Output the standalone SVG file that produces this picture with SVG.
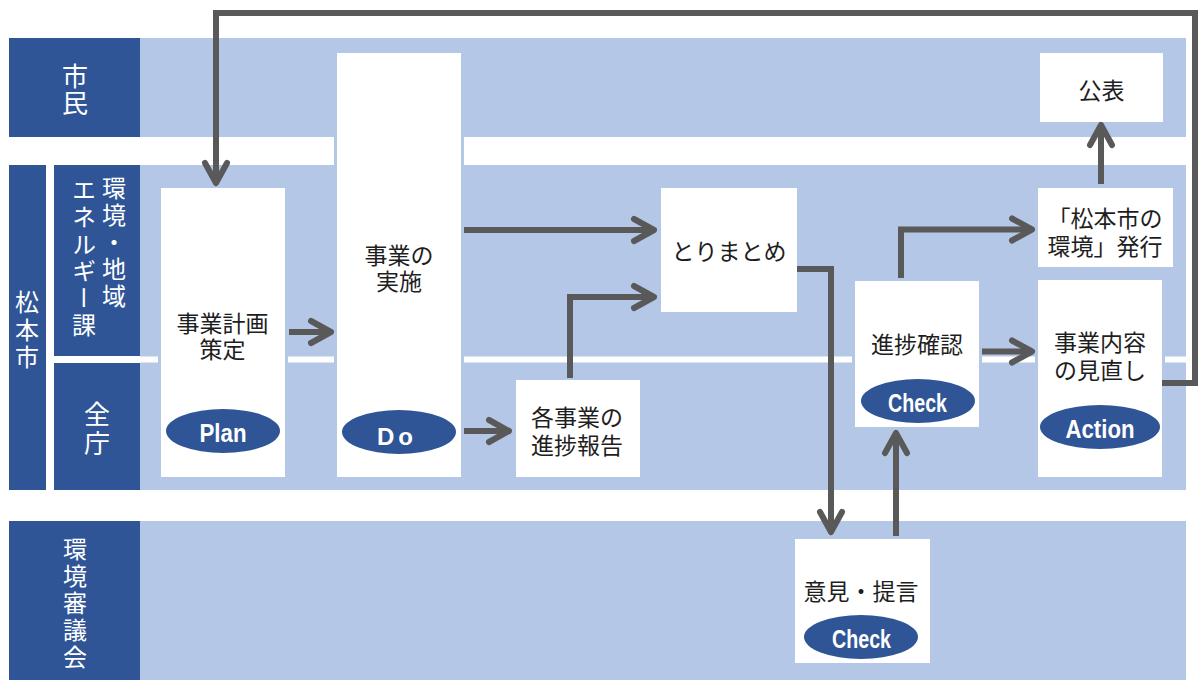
<svg xmlns="http://www.w3.org/2000/svg" width="1201" height="680" viewBox="0 0 1201 680">
<style>
.hd{fill:#2F5597}
.band{fill:#B4C7E7}
.halo{fill:#B4C7E7}
.box{fill:#FFFFFF}
.ht{fill:#FFFFFF;font-family:"Noto Sans CJK JP","Noto Sans CJK SC",sans-serif;writing-mode:vertical-rl}
.t{fill:#1e1e1e;font-family:"Noto Sans CJK JP","Noto Sans CJK SC",sans-serif;font-size:23px;text-anchor:middle;dominant-baseline:central}
.ell{fill:#2F5597}
.et{fill:#FFFFFF;font-family:"Liberation Sans Narrow","Liberation Sans",Arial,sans-serif;font-weight:bold;font-size:26px;text-anchor:middle}
.c{fill:none;stroke:#595959;stroke-width:6;stroke-linejoin:miter}
</style>
<defs>
<marker id="ah" markerUnits="userSpaceOnUse" markerWidth="40" markerHeight="40" viewBox="-30 -20 40 40" refX="0" refY="0" orient="auto" overflow="visible">
<path d="M-20,-11 L0,0 L-20,11" fill="none" stroke="#595959" stroke-width="6" stroke-linecap="round" stroke-linejoin="round"/>
</marker>
</defs>
<rect width="1201" height="680" fill="#FFFFFF"/>
<g id="lanes">
<rect class="band" x="140" y="38" width="1046" height="99"/>
<rect class="band" x="140" y="165" width="1046" height="325"/>
<rect class="band" x="140" y="521" width="1046" height="159"/>
<rect x="140" y="356.5" width="1046" height="6" fill="#FFFFFF"/>
<rect class="hd" x="9" y="38" width="131" height="99"/>
<rect class="hd" x="9" y="165" width="37" height="325"/>
<rect class="hd" x="54" y="165" width="86" height="191"/>
<rect class="hd" x="54" y="363" width="86" height="127"/>
<rect class="hd" x="9" y="521" width="131" height="159"/>
<text class="ht" x="75" y="63" font-size="26" letter-spacing="1">市民</text>
<text class="ht" x="27" y="290" font-size="24" letter-spacing="3.5">松本市</text>
<text class="ht" x="114" y="176" font-size="24" letter-spacing="3">環境・地域</text>
<text class="ht" x="84" y="178" font-size="24" letter-spacing="3">エネルギー課</text>
<text class="ht" x="97" y="401" font-size="26" letter-spacing="3">全庁</text>
<text class="ht" x="75" y="537" font-size="24" letter-spacing="3">環境審議会</text>
</g>
<g id="n-plan">
<rect class="halo" x="158" y="185" width="130" height="295"/>
<rect class="box" x="161" y="188" width="124" height="289"/>
<text class="t" x="222.5" y="322">事業計画</text>
<text class="t" x="222.5" y="348">策定</text>
<ellipse class="ell" cx="223" cy="431" rx="57" ry="22"/>
<text class="et" x="223" y="442" textLength="47" lengthAdjust="spacingAndGlyphs">Plan</text>
</g>
<g id="n-do">
<rect class="halo" x="334" y="50" width="130" height="430"/>
<rect class="box" x="337" y="53" width="124" height="424"/>
<text class="t" x="399" y="254">事業の</text>
<text class="t" x="399" y="280">実施</text>
<ellipse class="ell" cx="399" cy="432" rx="57" ry="22"/>
<text x="377" y="445" fill="#FFFFFF" font-family="Liberation Sans, Arial, sans-serif" font-weight="bold" font-size="24" letter-spacing="4">Do</text>
</g>
<g id="n-summary">
<rect class="halo" x="658" y="185" width="142" height="130"/>
<rect class="box" x="661" y="188" width="136" height="124"/>
<text class="t" x="729" y="250">とりまとめ</text>
</g>
<g id="n-report">
<rect class="halo" x="513" y="377" width="130" height="103"/>
<rect class="box" x="516" y="380" width="124" height="97"/>
<text class="t" x="577" y="416">各事業の</text>
<text class="t" x="577" y="444">進捗報告</text>
</g>
<g id="n-check">
<rect class="halo" x="852" y="278" width="130" height="152"/>
<rect class="box" x="855" y="281" width="124" height="146"/>
<text class="t" x="917" y="343">進捗確認</text>
<ellipse class="ell" cx="918" cy="401" rx="57" ry="22"/>
<text class="et" x="917.5" y="412" textLength="59" lengthAdjust="spacingAndGlyphs">Check</text>
</g>
<g id="n-action">
<rect class="halo" x="1035" y="277" width="130" height="203"/>
<rect class="box" x="1038" y="280" width="124" height="197"/>
<text class="t" x="1100" y="341">事業内容</text>
<text class="t" x="1100" y="369">の見直し</text>
<ellipse class="ell" cx="1100" cy="427" rx="60" ry="22"/>
<text class="et" x="1100" y="438" textLength="69" lengthAdjust="spacingAndGlyphs">Action</text>
</g>
<g id="n-publish-report">
<rect class="halo" x="1035" y="185" width="141" height="85"/>
<rect class="box" x="1038" y="188" width="135" height="79"/>
<text class="t" x="1105" y="217">「松本市の</text>
<text class="t" x="1105" y="245">環境」発行</text>
</g>
<g id="n-public">
<rect class="box" x="1040" y="53" width="123" height="69"/>
<text class="t" x="1101.5" y="89">公表</text>
</g>
<g id="n-opinion">
<rect class="box" x="795" y="539" width="135" height="124"/>
<text class="t" x="861" y="590">意見・提言</text>
<ellipse class="ell" cx="861" cy="637" rx="57" ry="22"/>
<text class="et" x="861.5" y="648" textLength="59" lengthAdjust="spacingAndGlyphs">Check</text>
</g>
<g id="connectors">
<path class="c" d="M1162,383 H1195 V13 H216 V183" marker-end="url(#ah)"/>
<path class="c" d="M289,332 H331" marker-end="url(#ah)"/>
<path class="c" d="M464,230 H654" marker-end="url(#ah)"/>
<path class="c" d="M570,378 V297 H654" marker-end="url(#ah)"/>
<path class="c" d="M464,431 H509" marker-end="url(#ah)"/>
<path class="c" d="M797,269 H831 V532" marker-end="url(#ah)"/>
<path class="c" d="M896,536 V433" marker-end="url(#ah)"/>
<path class="c" d="M901,278 V229.5 H1032" marker-end="url(#ah)"/>
<path class="c" d="M982,351.5 H1032" marker-end="url(#ah)"/>
<path class="c" d="M1101,184 V125" marker-end="url(#ah)"/>
</g>
</svg>
